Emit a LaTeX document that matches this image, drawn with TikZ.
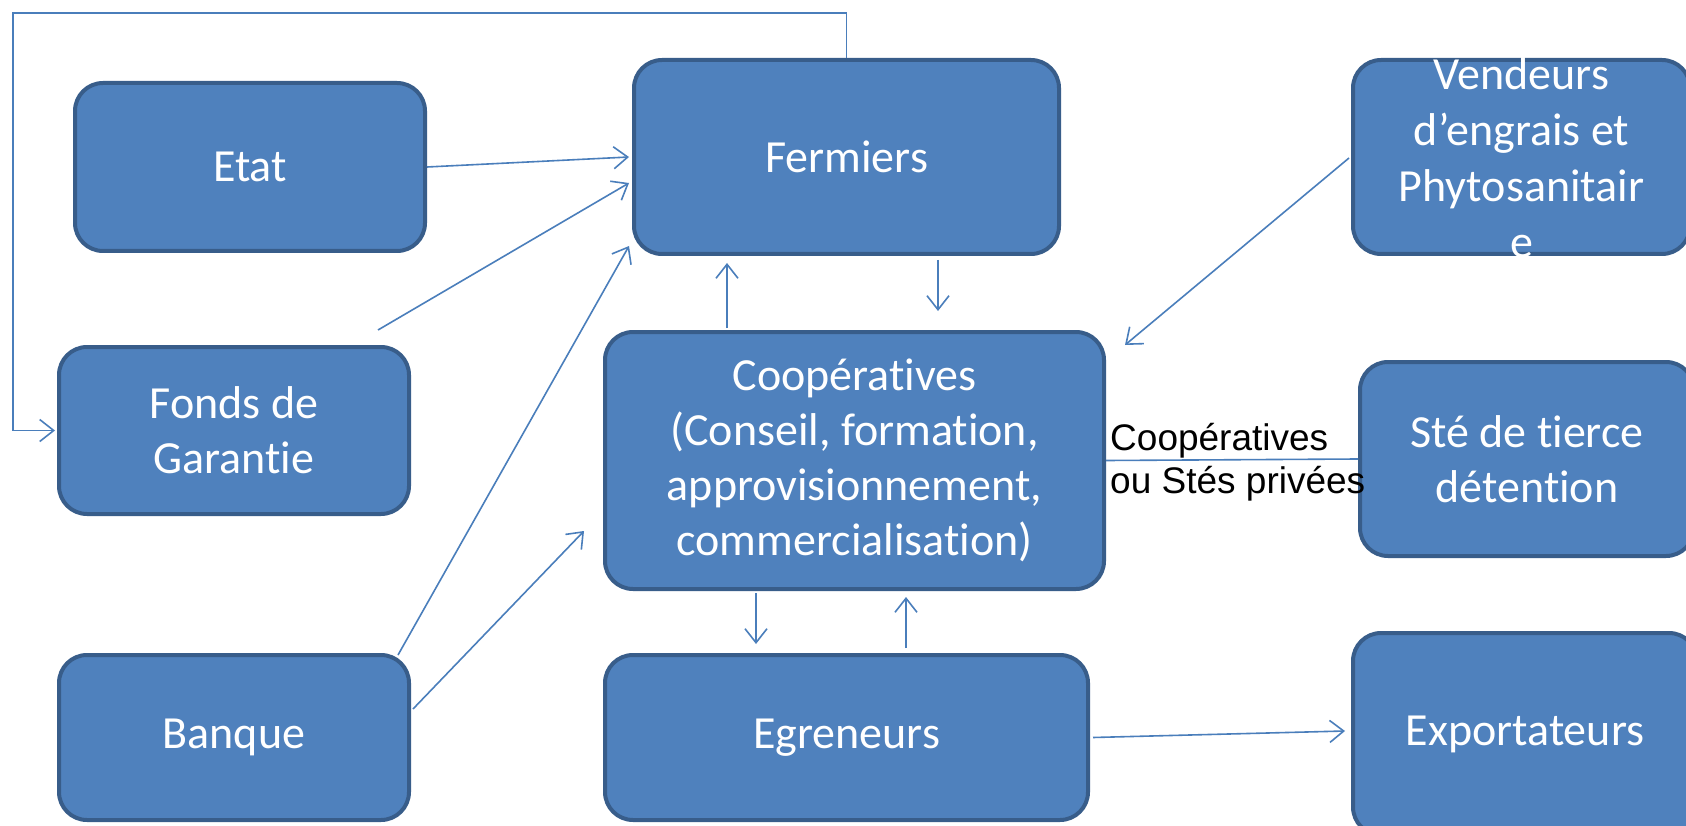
\documentclass[tikz,border=0pt]{standalone}
\usepackage{fontspec}
\setmainfont{Carlito}[Ligatures={NoCommon,NoContextual,NoRequired},Contextuals=NoAlternate]
\newfontfamily\arialf{Liberation Sans}
\usetikzlibrary{arrows.meta,calc}
\newcommand{\tiSep}{t\kern0pt i}
\definecolor{boxfill}{HTML}{4F81BD}
\definecolor{boxline}{HTML}{385D8A}
\definecolor{conn}{HTML}{4A7EBB}
\begin{document}
\begin{tikzpicture}[x=1pt,y=-1pt,
  box/.style={draw=boxline, line width=4pt, fill=boxfill, rounded corners=28pt,
    text=white, align=center, font=\fontsize{46}{55}\selectfont, inner sep=0pt},
  arr/.style={draw=conn, line width=1.6pt, -{Straight Barb[length=14pt,width=22pt]}},
  ln/.style={draw=conn, line width=1.6pt},
  lbl/.style={align=left, inner sep=0pt, font=\arialf\fontsize{37}{43}\selectfont}]
\clip (0,0) rectangle (1686,826);
\fill[white] (0,0) rectangle (1686,826);

\node[box, minimum width=350pt, minimum height=168pt] (etat) at (250,167) {Etat};
\node[box, minimum width=425pt, minimum height=194pt] (ferm) at (846.5,157) {Fermiers};
\node[box, minimum width=337pt, minimum height=194pt] (vend) at (1521.5,157) {};
\node[text=white, align=center, inner sep=0pt, font=\fontsize{46}{56}\selectfont] (vendtxt) at (1521.5,158) {Vendeurs\\d’engrais et\\Phytosanitair\\e};
\node[box, minimum width=350pt, minimum height=167pt] (fonds) at (234,430.5) {Fonds de\\Garan\tiSep e};
\node[box, minimum width=499pt, minimum height=257pt] (coop) at (854.5,460.5) {Coopéra\tiSep ves\\(Conseil, formation,\\approvisionnement,\\commercialisa\tiSep on)};
\node[box, minimum width=334pt, minimum height=194pt] (ste) at (1527,459) {Sté de tierce\\déten\tiSep on};
\node[box, minimum width=350pt, minimum height=165pt] (banq) at (234,737.5) {Banque};
\node[box, minimum width=483pt, minimum height=165pt] (egr) at (846.5,737.5) {Egreneurs};
\node[box, minimum width=344pt, minimum height=202pt] (expo) at (1525,734) {Exportateurs};

% connectors
\draw[arr] (etat.east) -- ($(ferm.west)+(-3,0)$);
\draw[arr] ($(fonds.north)+(144,-15)$) -- ($(ferm.west)+(-3,26)$);
\draw[arr] ($(banq.north)+(164,2)$) -- ($(ferm.west)+(-3,89)$);
\draw[arr] ($(banq.east)+(2,-28.5)$) -- ($(coop.west)+(-19,70.5)$);
\draw[arr] ($(coop.north)+(-127.5,-2)$) -- ($(ferm.south)+(-119.5,7)$);
\draw[arr] ($(ferm.south)+(91.5,4)$) -- ($(coop.north)+(83.5,-19)$);
\draw[arr] ($(vend.west)+(-2,1)$) -- ($(coop.east)+(19,-115.5)$);
\draw[arr] ($(coop.south)+(-98.5,2)$) -- ($(egr.north)+(-90.5,-9)$);
\draw[arr] ($(egr.north)+(59.5,-5)$) -- ($(coop.south)+(51.5,6)$);
\draw[arr] ($(egr.east)+(3,0)$) -- ($(expo.west)+(-6,-3)$);
\draw[ln] (coop.east) -- (ste.west);
\node[lbl, anchor=west] (coopl) at ($(coop.east)+(4,2)$) {Coopératives\\ou Stés privées};
\coordinate (tl) at (13,13);
\draw[arr, shorten >=2pt] (ferm.north) |- (tl) |- (fonds.west);
\end{tikzpicture}
\end{document}
